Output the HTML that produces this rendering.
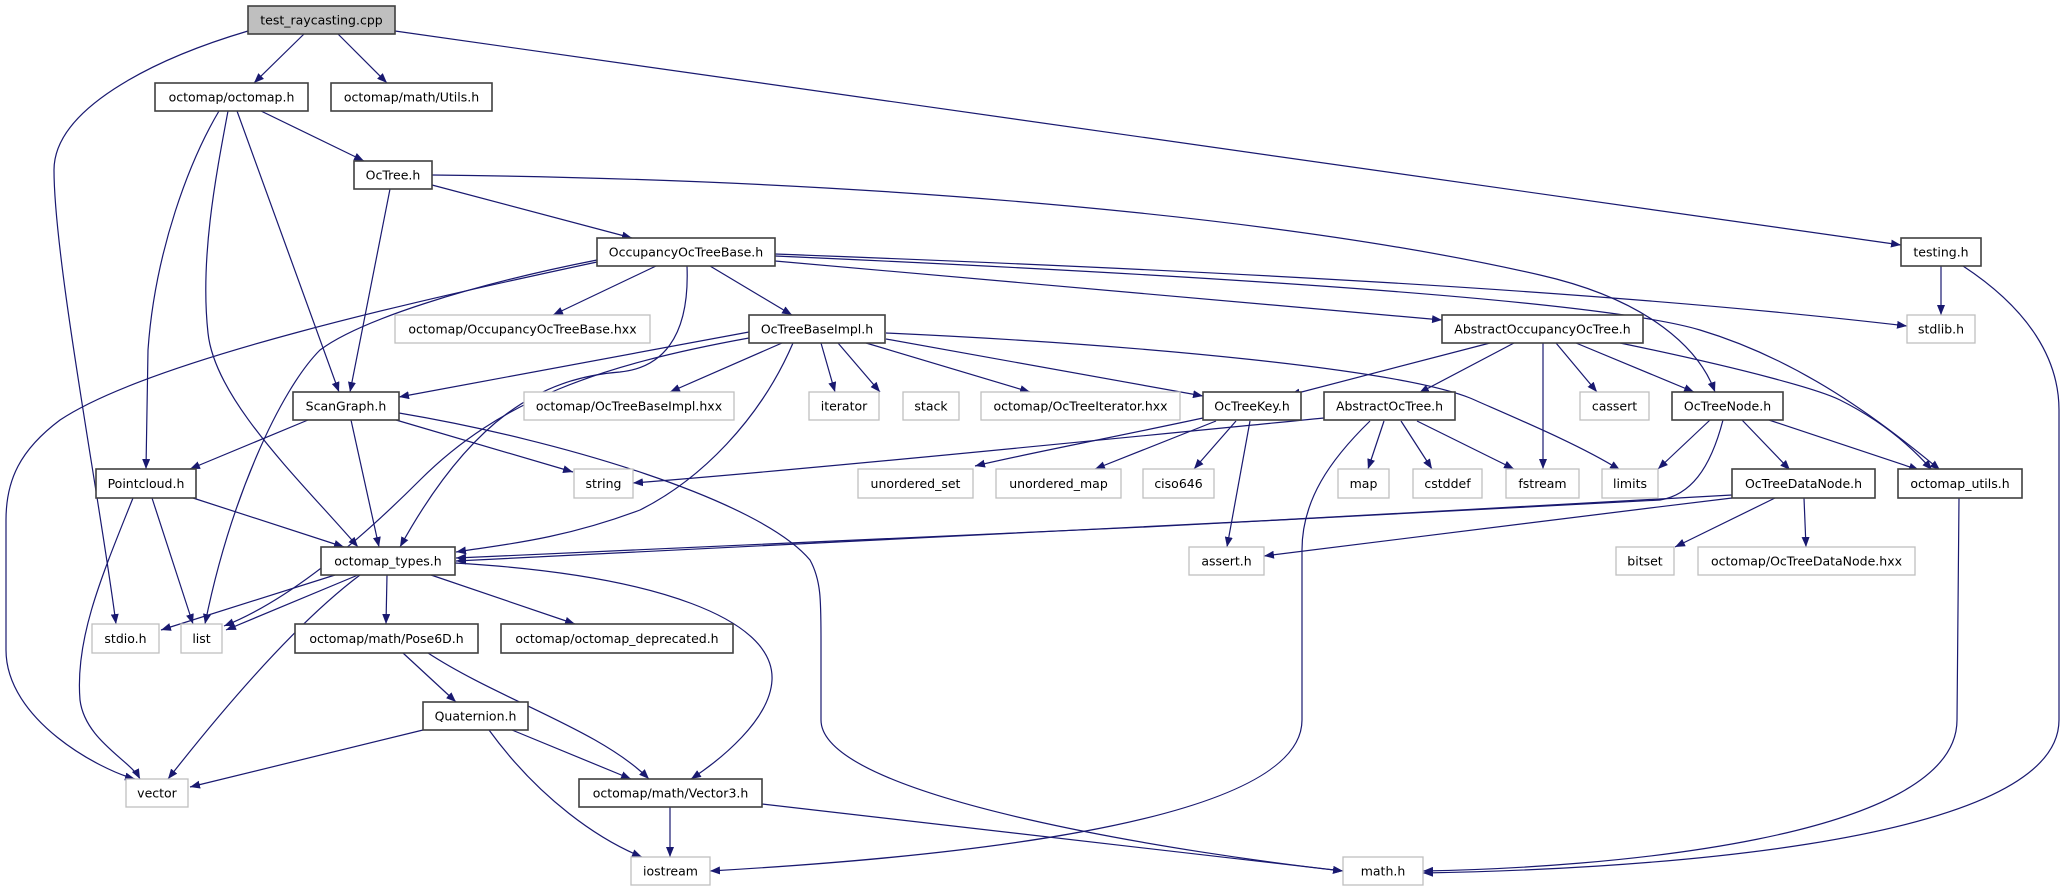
<!DOCTYPE html>
<html><head><meta charset="utf-8"><style>
html,body{margin:0;padding:0;background:#fff;}
svg{display:block}
text{font-family:"DejaVu Sans","Liberation Sans",sans-serif;font-size:12.5px;fill:#000;text-anchor:middle}
.p{fill:none;stroke:#191970;stroke-width:1.2}
.n{fill:#fff;stroke:#404040;stroke-width:1.6}
.g{fill:#fff;stroke:#bfbfbf;stroke-width:1.3}
</style></head><body>
<svg width="2064" height="891" viewBox="0 0 2064 891" xmlns="http://www.w3.org/2000/svg">
<defs><marker id="a" markerUnits="userSpaceOnUse" markerWidth="11" markerHeight="8" refX="10" refY="4" orient="auto"><path d="M0,0 L10,4 L0,8 z" fill="#191970"/></marker></defs>
<g class="p" marker-end="url(#a)">
<path d="M248,31 C150,60 54,110 54,170 C54,260 100,500 116,624"/>
<path d="M304,34 L254,83"/>
<path d="M338,34 L387,83"/>
<path d="M395,31 L1901,245"/>
<path d="M261,111 L364,161"/>
<path d="M237,111 L339,392"/>
<path d="M219,111 C190,160 155,250 148,350 L146,469"/>
<path d="M228,111 C215,180 200,260 208,333 C215,400 300,480 358,547"/>
<path d="M390,189 L350,392"/>
<path d="M432,185 L632,238"/>
<path d="M432,175 C900,180 1300,220 1540,275 C1650,300 1700,350 1715,392"/>
<path d="M656,266 L553,315"/>
<path d="M710,266 L792,315"/>
<path d="M597,262 C420,300 150,360 60,420 C20,450 6,480 6,520 L6,650 C6,720 100,770 135,779"/>
<path d="M597,260 C470,285 360,320 320,350 C280,390 230,500 205,624"/>
<path d="M687,266 C690,340 660,368 620,372 C540,378 470,420 400,547"/>
<path d="M775,261 L1442,320"/>
<path d="M775,254 C1200,270 1600,290 1907,326"/>
<path d="M775,256 C1200,275 1600,300 1700,330 C1800,360 1880,420 1940,470"/>
<path d="M749,332 L399,397"/>
<path d="M749,338 C600,365 500,400 420,480 C360,540 290,600 224,626"/>
<path d="M793,343 C760,420 700,480 640,510 C560,540 500,545 456,552"/>
<path d="M782,343 L670,392"/>
<path d="M821,343 L835,392"/>
<path d="M838,343 L880,392"/>
<path d="M866,343 L1030,392"/>
<path d="M886,339 L1203,396"/>
<path d="M886,333 C1150,345 1400,370 1470,398 C1520,420 1580,445 1620,470"/>
<path d="M1490,343 L1290,395"/>
<path d="M1514,343 L1419,393"/>
<path d="M1543,343 L1543,469"/>
<path d="M1556,343 L1597,392"/>
<path d="M1576,343 L1694,392"/>
<path d="M1620,343 C1750,370 1820,390 1840,400 C1880,420 1910,445 1932,470"/>
<path d="M1203,418 C1100,440 1020,455 975,466"/>
<path d="M1216,421 L1095,469"/>
<path d="M1236,421 L1194,469"/>
<path d="M1250,421 L1227,547"/>
<path d="M1324,418 C1100,440 800,470 633,483"/>
<path d="M1370,421 C1330,460 1302,500 1302,550 L1302,720 C1302,830 900,860 710,871"/>
<path d="M1384,421 L1368,469"/>
<path d="M1401,421 L1432,469"/>
<path d="M1417,421 L1514,469"/>
<path d="M1710,420 L1658,469"/>
<path d="M1723,420 C1710,470 1690,495 1660,500 C1300,520 700,550 456,558"/>
<path d="M1742,420 L1790,470"/>
<path d="M1769,420 L1919,470"/>
<path d="M1732,495 C1300,520 700,550 456,561"/>
<path d="M1732,498 C1550,520 1350,545 1264,556"/>
<path d="M1775,498 L1675,547"/>
<path d="M1804,498 L1806,547"/>
<path d="M1959,498 L1957,720 C1957,840 1600,868 1423,871"/>
<path d="M1941,266 L1941,315"/>
<path d="M1963,266 C2030,310 2059,360 2059,410 L2059,720 C2059,850 1600,870 1423,873"/>
<path d="M308,420 L190,469"/>
<path d="M351,420 L379,547"/>
<path d="M396,420 L573,472"/>
<path d="M399,413 C560,440 760,500 810,560 C821,580 821,600 821,640 L821,720 C821,800 1200,855 1343,871"/>
<path d="M193,498 L344,547"/>
<path d="M152,498 L193,624"/>
<path d="M133,498 C100,580 75,640 80,700 C85,740 130,760 140,779"/>
<path d="M335,575 L161,630"/>
<path d="M358,575 L226,630"/>
<path d="M360,575 C300,620 230,700 168,779"/>
<path d="M387,575 L386,624"/>
<path d="M431,575 L575,624"/>
<path d="M455,563 C660,575 775,620 772,680 C770,720 720,760 691,779"/>
<path d="M403,653 L456,702"/>
<path d="M428,653 C500,700 600,730 649,779"/>
<path d="M423,730 L190,787"/>
<path d="M512,730 L631,779"/>
<path d="M489,730 C540,800 600,840 642,857"/>
<path d="M670,807 L670,857"/>
<path d="M762,804 L1343,871"/>
</g>
<rect x="248" y="6" width="147" height="28" fill="#bfbfbf" stroke="#404040" stroke-width="1.6"/><text x="321.5" y="24.5">test_raycasting.cpp</text>
<rect class="n" x="155" y="83" width="153" height="28"/><text x="231.5" y="101.5">octomap/octomap.h</text>
<rect class="n" x="331" y="83" width="161" height="28"/><text x="411.5" y="101.5">octomap/math/Utils.h</text>
<rect class="n" x="354" y="161" width="78" height="28"/><text x="393" y="179.5">OcTree.h</text>
<rect class="n" x="597" y="238" width="178" height="28"/><text x="686" y="256.5">OccupancyOcTreeBase.h</text>
<rect class="n" x="1901" y="238" width="80" height="28"/><text x="1941" y="256.5">testing.h</text>
<rect class="g" x="395" y="315" width="255" height="28"/><text x="522.5" y="333.5">octomap/OccupancyOcTreeBase.hxx</text>
<rect class="n" x="749" y="315" width="136" height="28"/><text x="817" y="333.5">OcTreeBaseImpl.h</text>
<rect class="n" x="1442" y="315" width="201" height="28"/><text x="1542.5" y="333.5">AbstractOccupancyOcTree.h</text>
<rect class="g" x="1907" y="315" width="68" height="28"/><text x="1941" y="333.5">stdlib.h</text>
<rect class="n" x="293" y="392" width="106" height="28"/><text x="346" y="410.5">ScanGraph.h</text>
<rect class="g" x="524" y="392" width="210" height="28"/><text x="629" y="410.5">octomap/OcTreeBaseImpl.hxx</text>
<rect class="g" x="809" y="392" width="70" height="28"/><text x="844" y="410.5">iterator</text>
<rect class="g" x="903" y="392" width="56" height="28"/><text x="931" y="410.5">stack</text>
<rect class="g" x="981" y="392" width="199" height="28"/><text x="1080.5" y="410.5">octomap/OcTreeIterator.hxx</text>
<rect class="n" x="1203" y="392" width="98" height="28"/><text x="1252" y="410.5">OcTreeKey.h</text>
<rect class="n" x="1324" y="392" width="131" height="28"/><text x="1389.5" y="410.5">AbstractOcTree.h</text>
<rect class="g" x="1580" y="392" width="69" height="28"/><text x="1614.5" y="410.5">cassert</text>
<rect class="n" x="1672" y="392" width="111" height="28"/><text x="1727.5" y="410.5">OcTreeNode.h</text>
<rect class="n" x="96" y="469" width="100" height="29"/><text x="146" y="488">Pointcloud.h</text>
<rect class="g" x="574" y="469" width="59" height="29"/><text x="603.5" y="488">string</text>
<rect class="g" x="858" y="469" width="115" height="29"/><text x="915.5" y="488">unordered_set</text>
<rect class="g" x="996" y="469" width="125" height="29"/><text x="1058.5" y="488">unordered_map</text>
<rect class="g" x="1143" y="469" width="71" height="29"/><text x="1178.5" y="488">ciso646</text>
<rect class="g" x="1338" y="469" width="51" height="29"/><text x="1363.5" y="488">map</text>
<rect class="g" x="1413" y="469" width="69" height="29"/><text x="1447.5" y="488">cstddef</text>
<rect class="g" x="1506" y="469" width="73" height="29"/><text x="1542.5" y="488">fstream</text>
<rect class="g" x="1602" y="469" width="56" height="29"/><text x="1630" y="488">limits</text>
<rect class="n" x="1732" y="469" width="143" height="29"/><text x="1803.5" y="488">OcTreeDataNode.h</text>
<rect class="n" x="1898" y="469" width="124" height="29"/><text x="1960" y="488">octomap_utils.h</text>
<rect class="n" x="321" y="547" width="134" height="28"/><text x="388" y="565.5">octomap_types.h</text>
<rect class="g" x="1189" y="547" width="75" height="28"/><text x="1226.5" y="565.5">assert.h</text>
<rect class="g" x="1616" y="547" width="58" height="28"/><text x="1645" y="565.5">bitset</text>
<rect class="g" x="1698" y="547" width="217" height="28"/><text x="1806.5" y="565.5">octomap/OcTreeDataNode.hxx</text>
<rect class="g" x="92" y="624" width="67" height="29"/><text x="125.5" y="643">stdio.h</text>
<rect class="g" x="181" y="624" width="41" height="29"/><text x="201.5" y="643">list</text>
<rect class="n" x="295" y="624" width="183" height="29"/><text x="386.5" y="643">octomap/math/Pose6D.h</text>
<rect class="n" x="501" y="624" width="232" height="29"/><text x="617" y="643">octomap/octomap_deprecated.h</text>
<rect class="n" x="423" y="702" width="105" height="28"/><text x="475.5" y="720.5">Quaternion.h</text>
<rect class="g" x="126" y="779" width="62" height="28"/><text x="157" y="797.5">vector</text>
<rect class="n" x="579" y="779" width="183" height="28"/><text x="670.5" y="797.5">octomap/math/Vector3.h</text>
<rect class="g" x="631" y="857" width="79" height="28"/><text x="670.5" y="875.5">iostream</text>
<rect class="g" x="1343" y="857" width="80" height="28"/><text x="1383" y="875.5">math.h</text>
</svg>
</body></html>
